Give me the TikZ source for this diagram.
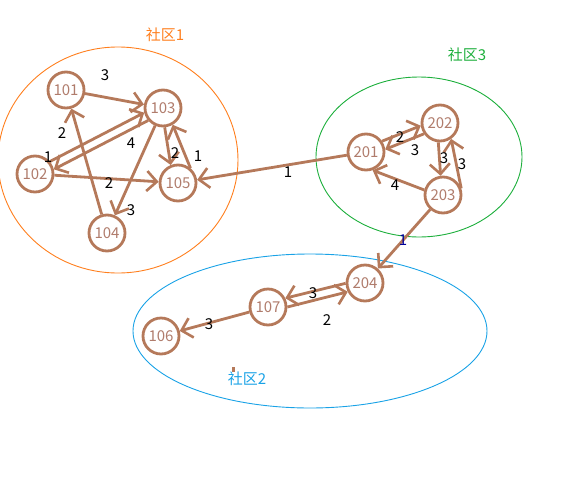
\documentclass[tikz,border=0pt]{standalone}
\usepackage{fontspec}
\setmainfont{Noto Sans CJK SC}
\usetikzlibrary{arrows.meta}
\definecolor{linkbrown}{HTML}{B5795A}
\definecolor{labelbrown}{HTML}{B07C6C}
\definecolor{commorange}{HTML}{FF7F1E}
\definecolor{commgreen}{HTML}{1DAF3C}
\definecolor{commblue}{HTML}{19A2E6}
\tikzset{
    vertex/.style={circle, draw=linkbrown, line width=2.8pt, minimum size=36pt,
        inner sep=0pt, text=labelbrown, font=\fontsize{15}{15}\selectfont},
    link/.style={draw=linkbrown, line width=2.8pt,
        -{Straight Barb[length=10pt, width=20pt, line width=2.6pt]}},
    weight/.style={font=\fontsize{15}{15}\selectfont},
    community/.style={line width=0.9pt},
}

\begin{document}
\begin{tikzpicture}[x=1pt, y=-1pt]
        \useasboundingbox (0, 0) rectangle (571, 483);
        % Communities
        \draw[community, commorange] (118, 160) ellipse [x radius=120, y radius=113];
        \draw[community, commgreen] (419, 157) ellipse [x radius=103, y radius=80];
        \draw[community, commblue] (310, 331) ellipse [x radius=177, y radius=77];
        \node[commorange, weight] (c1) at (165, 35) {社区1};
        \node[commgreen, weight] (c3) at (467, 55) {社区3};
        \node[commblue, weight] (c2) at (247, 379) {社区2};
        \fill[linkbrown] (232, 367) rectangle (235, 372); % Stray mark
        % Vertices
        \node[vertex] (101) at (66, 90) {101};
        \node[vertex] (102) at (35, 174) {102};
        \node[vertex] (103) at (163, 108) {103};
        \node[vertex] (104) at (107, 233) {104};
        \node[vertex] (105) at (178, 183) {105};
        \node[vertex] (106) at (161, 336) {106};
        \node[vertex] (107) at (268, 307) {107};
        \node[vertex] (201) at (366, 152) {201};
        \node[vertex] (202) at (440, 123) {202};
        \node[vertex] (203) at (443, 195) {203};
        \node[vertex] (204) at (365, 283) {204};
        % Community 1 links
        \draw[link] (101) -- (103);
        \draw[link] (102.40) -- (103.194);
        \draw[link] (103.220) -- (102.14);
        \draw[link] (104) -- (101);
        \draw[link] (103) -- (104);
        \draw[link] (103.275) -- (105.112);
        \draw[link] (105.50) -- (103.300);
        \draw[link] (102) -- (105);
        % Community 3 links
        \draw[link] (201.34) -- (202.188);
        \draw[link] (202.214) -- (201.8);
        \draw[link] (203.165) -- (201.290);
        \draw[link] (202.265) -- (203.97);
        \draw[link] (203.20) -- (202.305);
        % Community 2 links
        \draw[link] (204.181) -- (107.27);
        \draw[link] (107.0) -- (204.207);
        \draw[link] (107) -- (106);
        % Links between communities
        \draw[link] (201) -- (105);
        \draw[link] (203) -- (204);
        % Weights
        \node[weight] (w1) at (105, 75) {3};
        \node[weight] (w2) at (48, 157) {1};
        \node[weight] (w3) at (131, 143) {4};
        \node[weight] (w4) at (62, 133) {2};
        \node[weight] (w5) at (131, 210) {3};
        \node[weight] (w6) at (175, 153) {2};
        \node[weight] (w7) at (198, 156) {1};
        \node[weight] (w8) at (109, 183) {2};
        \node[weight] (w9) at (288, 172) {1};
        \node[weight] (w10) at (400, 137) {2};
        \node[weight] (w11) at (415, 150) {3};
        \node[weight] (w12) at (395, 185) {4};
        \node[weight] (w13) at (444, 158) {3};
        \node[weight] (w14) at (462, 164) {3};
        \node[weight, text=blue!60!black] (w15) at (403, 240) {1};
        \node[weight] (w16) at (313, 293) {3};
        \node[weight] (w17) at (327, 320) {2};
        \node[weight] (w18) at (209, 324) {3};
\end{tikzpicture}
\end{document}
